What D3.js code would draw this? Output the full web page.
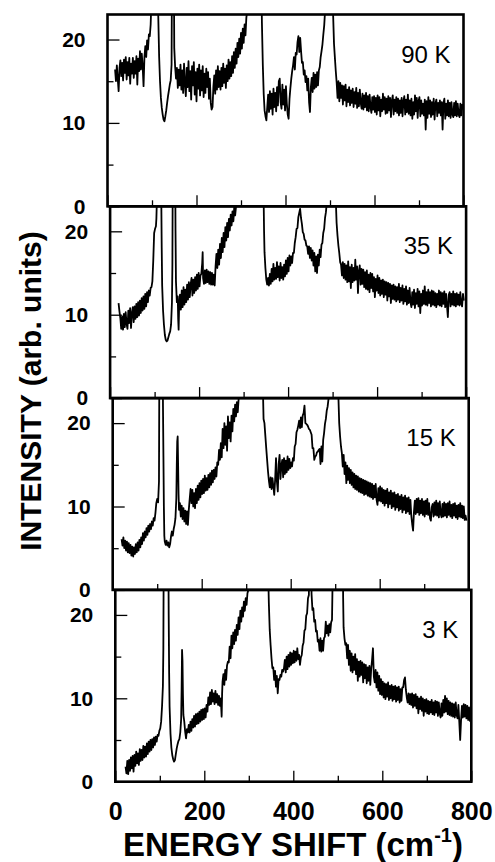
<!DOCTYPE html>
<html>
<head>
<meta charset="utf-8">
<script src="https://cdn.jsdelivr.net/npm/d3@7"></script>
<style>
  body { margin: 0; background: #fff; }
  text { font-family: "Liberation Sans", Arial, Helvetica, sans-serif; fill: #000; }
</style>
</head>
<body>
<div id="svg-container"></div>
<script>
// spectra, [energy shift (cm-1), intensity], 30 = off scale
const spec90 = [[17,16.4],[19,15.0],[21,16.9],[23,15.3],[25,13.8],[27,16.6],[29,17.5],[31,15.6],[33,17.2],[35,15.1],[37,17.6],[39,16.0],[41,17.9],[43,15.2],[45,17.3],[47,15.7],[49,17.8],[51,14.7],[53,17.1],[55,15.9],[57,17.8],[59,15.4],[61,17.4],[63,15.9],[65,18.0],[67,14.6],[69,17.7],[71,16.2],[73,18.6],[75,16.4],[77,18.3],[79,16.8],[81,14.4],[83,17.9],[85,19.2],[87,17.9],[89,19.9],[91,18.8],[93,20.6],[95,20.4],[97,21.8],[98,23.5],[99,30],[112,30],[114,23],[116,18],[118,15],[120,13],[122,11.8],[124,11.0],[126,10.4],[128,10.2],[130,10.8],[132,11.5],[134,12.4],[136,13.2],[138,13.9],[140,14.6],[142,15.1],[144,17],[145,30],[149,30],[150,19],[152,16.7],[154,15.3],
  [156,16.6],[158,14.2],[160,16.4],[162,14.5],[164,17.0],[166,14.0],[168,16.3],[170,13.6],[172,17.1],[174,14.7],[176,13.2],[178,16.6],[180,14.3],[182,17.4],[184,13.8],[186,16.2],[188,12.8],[190,16.8],[192,14.5],[194,17.3],[196,13.4],[198,16.1],[200,12.6],[202,16.5],[204,14.1],[206,17.0],[208,13.3],[210,16.3],[212,13.9],[214,16.8],[216,13.1],[218,15.9],[220,13.6],[222,16.5],[224,14.3],[226,16.1],[228,12.9],[230,15.3],[232,12.4],[234,11.6],[236,11.9],[238,14.4],[240,15.7],[242,13.5],[244,16.3],[246,14.0],[248,16.8],[250,14.3],[252,16.2],[254,14.0],[256,16.6],[258,14.4],[260,17.1],[262,14.8],[264,16.5],[266,14.2],[268,16.9],[270,15.0],[272,17.6],[274,15.3],[276,17.3],[278,15.6],[280,18.0],[282,16.0],[284,18.5],[286,16.6],[288,18.9],[290,17.1],[292,19.6],[294,17.9],[296,20.1],[298,18.3],[300,20.8],[302,18.9],[304,21.3],[306,19.6],[308,21.8],[310,20.5],[312,22.6],[314,23.5],[315,30],
  [345,30],[347,22],[349,17],[351,13.5],[353,11.5],[355,10.8],[357,10.3],[359,11.9],[361,13.4],[363,11.3],[365,13.8],[367,11.7],[369,13.5],[371,11.0],[373,14.1],[375,11.9],[377,13.6],[379,11.4],[381,14.3],[383,12.1],[385,15.0],[387,15.3],[389,12.5],[391,11.7],[393,14.6],[395,12.2],[397,14.0],[399,11.5],[401,14.4],[403,12.3],[405,11.0],[407,10.5],[409,12.9],[411,14.2],[413,15.3],[415,16.2],[417,16.9],[419,17.9],[421,16.4],[423,18.4],[425,18.2],[427,19.7],[429,20.4],[431,18.5],[433,20.2],[435,18.6],[437,17.2],[439,17.3],[441,15.8],[443,16.3],[445,14.9],[447,15.6],[449,13.9],[451,15.3],[453,12.5],[455,11.3],[457,14.3],[459,15.4],[461,13.7],[463,16.0],[465,14.1],[467,15.8],[469,14.3],[471,16.1],[473,14.5],[475,16.3],[477,16.7],[479,17.9],[481,18.6],[483,19.4],[485,20.6],[487,21.7],[489,23.5],[490,30],
  [505,30],[507,23],[509,19.5],[511,17.8],[513,16.2],[515,14.8],[517,13.0],[519,15.0],[521,12.6],[523,14.8],[525,13.0],[527,14.5],[529,12.2],[531,14.4],[533,12.7],[535,14.6],[537,12.0],[539,14.0],[541,12.5],[543,14.3],[545,12.1],[547,13.9],[549,12.4],[551,14.1],[553,11.9],[555,13.7],[557,12.3],[559,14.2],[561,11.8],[563,13.6],[565,12.0],[567,14.0],[569,12.4],[571,11.7],[573,13.5],[575,11.6],[577,13.3],[579,11.9],[581,13.6],[583,11.5],[585,13.2],[587,11.4],[589,13.4],[591,11.9],[593,11.2],[595,13.1],[597,11.6],[599,13.2],[601,11.3],[603,13.0],[605,11.0],[607,13.3],[609,11.5],[611,13.1],[613,10.8],[615,12.8],[617,11.4],[619,13.5],[621,11.6],[623,13.1],[625,11.1],[627,12.9],[629,11.2],[631,13.2],[633,11.5],[635,13.0],[637,10.7],[639,12.7],[641,13.3],[643,11.0],[645,12.8],[647,11.4],[649,13.1],[651,11.2],[653,12.9],[655,10.9],[657,12.7],[659,11.2],[661,13.0],[663,10.8],[665,12.6],[667,13.2],[669,11.0],[671,12.8],[673,11.3],[675,13.4],[677,11.1],[679,12.7],[681,10.9],[683,12.9],[685,10.5],[687,12.5],[689,11.0],[691,13.3],[693,11.4],[695,13.0],[697,10.6],[699,12.6],[701,13.1],[703,10.8],[705,12.7],[707,11.1],[709,12.3],[711,10.9],[713,12.8],[715,9.2],[717,12.6],[719,10.6],[721,13.1],[723,11.1],[725,12.7],[727,10.7],[729,12.5],[731,11.0],[733,12.9],[735,10.4],[737,12.3],[739,12.8],[741,10.8],[743,12.4],[745,11.2],[747,12.7],[749,10.9],[751,12.5],[753,9.2],[755,12.4],[757,12.9],[759,10.5],[761,12.3],[763,10.9],[765,12.7],[767,10.8],[769,12.4],[771,10.6],[773,12.5],[775,11.0],[777,10.7],[779,12.4],[781,10.9],[783,12.6],[785,10.8],[787,12.3],[789,11.0],[791,10.7],[793,12.3],[795,10.9],[797,12.2],[799,11.6]]

const spec35 = [[19,11.4],[21,10.4],[23,9.6],[25,8.3],[27,9.8],[29,8.2],[31,10.1],[33,8.5],[35,10.3],[37,8.9],[39,8.3],[41,10.5],[43,9.0],[45,10.8],[47,8.4],[49,10.2],[51,10.9],[53,9.1],[55,11.0],[57,9.5],[59,11.3],[61,9.7],[63,11.5],[65,9.9],[67,11.7],[69,10.2],[71,12.0],[73,10.5],[75,12.2],[77,10.7],[79,12.5],[81,11.0],[83,12.7],[85,11.5],[87,12.9],[89,12.3],[91,13.2],[93,13.3],[95,14.0],[97,16.5],[99,19.8],[101,20.3],[103,20.6],[104,21.5],[105,23.5],[106,30],[114,30],[115,24],[116,18],[117,13.5],[119,10.5],[121,8.8],[123,7.6],[125,7.0],[127,6.8],[129,6.9],[131,7.3],[133,7.7],[135,8.0],[137,8.8],[139,11.5],[140,16],[141,30],[146,30],[147,20],[148,14],[150,11.5],[152,12.2],[153,9.5],[154,8.2],
  [155,10.8],[157,12.4],[159,10.6],[161,12.9],[163,10.9],[165,13.3],[167,11.2],[169,13.0],[171,11.5],[173,13.6],[175,11.8],[177,13.9],[179,12.1],[181,13.6],[183,14.4],[185,12.3],[187,14.2],[189,12.6],[191,14.5],[193,12.9],[195,14.8],[197,13.1],[199,15.0],[201,13.4],[203,14.7],[205,14.9],[207,16.2],[208,17.5],[209,14.4],[211,13.7],[213,15.3],[215,13.8],[217,15.4],[219,13.9],[221,15.2],[223,13.7],[225,15.1],[227,13.6],[229,15.0],[231,13.6],[233,14.8],[235,13.5],[237,15.8],[239,17.3],[241,15.6],[243,17.8],[245,16.0],[247,18.5],[249,16.8],[251,19.2],[253,17.5],[255,19.8],[257,18.1],[259,20.5],[261,18.9],[263,21.0],[265,19.3],[267,21.5],[269,20.1],[271,22.0],[273,20.7],[275,22.4],[277,21.2],[279,22.9],[281,21.9],[283,23.0],[285,23.5],[286,30],
  [344,30],[345,24],[346,20],[347,17.5],[349,15.6],[351,14.2],[353,13.6],[355,14.4],[357,13.5],[359,14.9],[361,13.7],[363,15.5],[365,14.0],[367,16.1],[369,14.2],[371,15.6],[373,14.3],[375,16.3],[377,14.5],[379,15.8],[381,14.1],[383,16.2],[385,14.4],[387,15.7],[389,14.2],[391,16.0],[393,14.6],[395,16.5],[397,14.9],[399,16.8],[401,15.2],[403,17.1],[405,15.9],[407,17.0],[409,16.2],[411,17.4],[413,17.4],[415,18.6],[417,19.3],[419,20.3],[421,20.4],[423,21.7],[425,22.2],[427,22.7],[429,21.6],[431,20.9],[433,19.9],[435,19.7],[437,19.0],[439,18.9],[441,18.3],[443,18.2],[445,17.3],[447,18.2],[449,16.8],[451,18.0],[453,16.5],[455,17.7],[457,15.9],[459,17.4],[461,15.2],[463,17.0],[465,15.0],[467,17.2],[469,15.9],[471,17.8],[473,16.9],[475,18.4],[477,18.6],[479,19.8],[481,20.3],[483,21.6],[485,22.3],[487,23.5],[488,30],
  [506,30],[507,24],[509,21],[511,19.5],[513,18.3],[515,17.4],[517,16.3],[519,16.0],[521,14.7],[523,16.3],[525,14.4],[527,16.1],[529,14.2],[531,15.9],[533,13.9],[535,16.4],[537,14.0],[539,15.7],[541,13.2],[543,16.0],[545,13.9],[547,15.6],[549,14.1],[551,16.6],[553,14.2],[555,15.8],[557,12.6],[559,15.2],[561,15.9],[563,13.6],[565,15.5],[567,13.7],[569,15.4],[571,13.3],[573,15.1],[575,13.1],[577,15.3],[579,13.0],[581,14.8],[583,12.7],[585,15.0],[587,13.2],[589,14.9],[591,12.8],[593,14.5],[595,12.1],[597,14.3],[599,12.9],[601,14.7],[603,12.6],[605,14.4],[607,12.3],[609,14.1],[611,12.5],[613,14.2],[615,12.1],[617,14.0],[619,12.4],[621,13.9],[623,11.7],[625,13.8],[627,12.2],[629,13.7],[631,11.4],[633,13.5],[635,11.9],[637,13.6],[639,11.8],[641,13.4],[643,11.6],[645,13.3],[647,11.8],[649,13.7],[651,11.5],[653,13.2],[655,11.7],[657,13.5],[659,11.3],[661,13.1],[663,11.6],[665,13.4],[667,11.2],[669,12.9],[671,11.4],[673,13.2],[675,11.5],[677,10.9],[679,12.7],[681,11.2],[683,13.0],[685,10.8],[687,12.6],[689,11.3],[691,13.1],[693,11.0],[695,12.8],[697,10.2],[699,12.5],[701,11.1],[703,12.9],[705,11.3],[707,13.4],[709,11.2],[711,12.7],[713,11.1],[715,13.0],[717,11.4],[719,12.7],[721,11.0],[723,12.9],[725,11.2],[727,12.8],[729,11.1],[731,12.6],[733,10.9],[735,12.5],[737,11.2],[739,12.9],[741,11.1],[743,12.7],[745,11.0],[747,12.6],[749,11.3],[751,12.8],[753,10.9],[755,12.5],[757,11.1],[759,9.7],[761,12.4],[763,12.7],[765,11.0],[767,12.5],[769,11.2],[771,12.8],[773,11.1],[775,12.5],[777,11.0],[779,12.6],[781,11.2],[783,12.4],[785,11.1],[787,12.7],[789,11.3],[791,11.0],[793,12.5],[795,11.7]]

const spec15 = [[20,6.1],[22,5.3],[24,6.3],[26,5.0],[28,5.9],[30,4.7],[32,5.8],[34,4.5],[36,5.6],[38,4.4],[40,5.4],[42,4.1],[44,5.2],[46,4.0],[48,5.1],[50,4.3],[52,5.5],[54,4.5],[56,5.7],[58,4.7],[60,6.0],[62,5.1],[64,6.3],[66,5.5],[68,6.8],[70,5.9],[72,7.0],[74,6.3],[76,7.4],[78,6.6],[80,7.7],[82,7.0],[84,7.9],[86,7.3],[88,8.2],[90,7.7],[92,8.6],[94,8.3],[96,9.2],[98,10.4],[100,10.9],[102,10.5],[104,13],[105,30],[112,30],[113,22],[114,16],[115,10],[116,6.5],[117,5.8],[119,5.4],[121,5.9],[123,5.3],[125,5.7],[127,5.1],[129,5.5],[131,6.4],[133,7.0],[135,6.5],[137,7.3],[139,7.8],[141,8.6],[143,11],[144,15],[145,17.8],[146,18.4],[147,15],[148,11.5],
  [149,9.6],[151,10.4],[153,8.8],[155,10.1],[157,8.5],[159,9.8],[161,8.2],[163,9.5],[165,7.9],[167,9.4],[169,7.8],[171,9.6],[173,10.9],[175,12.1],[177,10.4],[179,12.0],[181,10.0],[183,11.6],[185,9.8],[187,12.1],[189,10.4],[191,12.5],[193,10.8],[195,12.8],[197,11.1],[199,13.1],[201,11.5],[203,13.3],[205,11.6],[207,13.7],[209,11.9],[211,13.4],[213,12.0],[215,13.8],[217,12.3],[219,14.0],[221,12.6],[223,14.3],[225,12.9],[227,14.4],[229,13.3],[231,14.7],[233,13.6],[235,15.3],[237,15.0],[239,16.8],[241,15.6],[243,17.6],[245,15.9],[247,19.3],[249,17.0],[251,20.0],[253,17.4],[255,19.6],[257,16.7],[259,20.8],[261,18.2],[263,20.1],[265,17.8],[267,20.9],[269,19.0],[271,21.7],[273,20.2],[275,22.2],[277,20.8],[279,22.5],[281,21.3],[283,22.9],[285,23.0],[286,30],
  [337,30],[338,23],[339,20.5],[341,20.0],[343,18.5],[345,17.0],[347,15.6],[349,14.2],[351,13.1],[353,12.3],[355,13.5],[357,12.1],[359,13.4],[361,12.4],[363,11.4],[365,13.2],[367,15.8],[369,13.0],[371,11.8],[373,15.1],[375,16.2],[377,13.3],[379,14.9],[381,15.6],[383,13.5],[385,15.8],[387,13.9],[389,15.5],[391,14.1],[393,16.0],[395,14.4],[397,15.7],[399,14.6],[401,15.3],[403,14.8],[405,15.8],[407,15.5],[409,17.2],[411,17.5],[413,18.9],[415,19.2],[417,19.7],[419,20.3],[421,19.4],[423,20.7],[425,19.5],[427,20.9],[429,21.2],[431,22.1],[433,20.0],[435,19.9],[437,19.8],[439,19.6],[441,19.3],[443,19.2],[445,18.9],[447,18.6],[449,17.0],[451,17.0],[453,15.6],[455,16.0],[457,16.1],[459,16.5],[461,16.6],[463,16.8],[465,16.9],[467,15.1],[469,17.2],[471,15.4],[473,18.0],[475,18.8],[477,19.9],[479,20.5],[481,21.5],[483,22.0],[485,22.9],[487,23.5],[488,30],
  [506,30],[507,23.5],[509,20.0],[511,18.4],[513,17.2],[515,16.4],[517,14.8],[519,16.2],[521,13.9],[523,15.3],[525,12.8],[527,14.9],[529,13.2],[531,14.6],[533,12.8],[535,14.4],[537,12.6],[539,14.1],[541,12.3],[543,13.9],[545,12.1],[547,13.7],[549,12.0],[551,13.6],[553,11.8],[555,13.4],[557,11.7],[559,13.3],[561,11.6],[563,13.2],[565,11.4],[567,13.1],[569,11.5],[571,13.0],[573,11.3],[575,12.9],[577,11.2],[579,12.8],[581,11.1],[583,12.7],[585,10.9],[587,12.5],[589,11.1],[591,12.7],[593,10.8],[595,10.2],[597,12.2],[599,10.7],[601,12.4],[603,10.6],[605,12.2],[607,10.4],[609,12.0],[611,10.1],[613,11.9],[615,10.4],[617,12.1],[619,9.9],[621,11.7],[623,10.3],[625,11.9],[627,9.8],[629,11.6],[631,10.0],[633,11.7],[635,9.6],[637,11.4],[639,9.9],[641,11.5],[643,9.5],[645,11.2],[647,9.7],[649,11.4],[651,9.3],[653,11.1],[655,9.6],[657,11.3],[659,9.2],[661,11.0],[663,9.4],[665,11.1],[667,9.1],[669,10.8],[671,8.9],[673,7.9],[675,7.1],[677,9.4],[679,10.7],[681,9.1],[683,10.9],[685,9.3],[687,11.0],[689,9.0],[691,10.7],[693,9.2],[695,10.9],[697,9.0],[699,10.6],[701,8.8],[703,10.7],[705,9.1],[707,10.9],[709,9.0],[711,10.4],[713,8.6],[715,8.3],[717,9.9],[719,10.3],[721,8.8],[723,10.5],[725,9.0],[727,10.7],[729,8.9],[731,10.4],[733,8.7],[735,10.6],[737,9.1],[739,8.7],[741,10.3],[743,8.8],[745,10.5],[747,8.9],[749,10.3],[751,8.7],[753,10.4],[755,9.0],[757,10.6],[759,8.8],[761,10.2],[763,8.6],[765,10.3],[767,8.9],[769,10.4],[771,8.7],[773,10.1],[775,8.5],[777,10.2],[779,8.8],[781,10.4],[783,8.7],[785,10.1],[787,8.6],[789,10.0],[791,8.4],[793,8.9],[795,8.3]]

const spec3 = [[23,1.8],[25,1.0],[27,2.5],[29,0.9],[31,2.6],[33,1.3],[35,2.9],[37,1.6],[39,3.1],[41,1.2],[43,3.2],[45,1.9],[47,3.6],[49,2.2],[51,3.4],[53,2.0],[55,3.9],[57,2.5],[59,3.8],[61,2.6],[63,4.3],[65,2.9],[67,4.2],[69,3.0],[71,4.6],[73,3.3],[75,4.8],[77,3.6],[79,5.0],[81,3.8],[83,5.1],[85,4.1],[87,5.3],[89,4.4],[91,5.4],[93,4.8],[95,5.6],[97,5.5],[99,6.1],[101,6.4],[103,7.2],[105,9.0],[107,11.5],[108,16],[109,30],[119,30],[120,20],[121,13],[122,9],[124,5.8],[126,4.1],[128,3.2],[130,2.7],[132,2.4],[134,2.6],[136,3.3],[138,4.0],[140,4.5],[142,4.9],[144,5.1],[146,5.9],[148,7.5],[149,11],[150,15.8],[151,14.5],[152,10.5],[153,8.0],
  [155,7.2],[157,6.0],[159,5.2],[161,6.3],[163,5.9],[165,6.8],[167,5.9],[169,7.2],[171,6.1],[173,7.5],[175,6.5],[177,7.9],[179,6.6],[181,8.1],[183,6.9],[185,8.2],[187,7.0],[189,8.4],[191,7.2],[193,8.6],[195,7.4],[197,8.7],[199,7.5],[201,8.8],[203,7.7],[205,9.2],[207,8.4],[209,10.1],[211,9.2],[213,10.7],[215,9.3],[217,11.0],[219,9.6],[221,10.6],[223,9.3],[225,10.9],[227,9.5],[229,10.5],[231,9.2],[233,10.3],[235,9.1],[237,10.0],[239,7.8],[240,10.5],[241,12.0],[243,12.9],[245,11.6],[247,13.4],[249,12.2],[251,13.9],[253,14.4],[255,14.3],[257,16.2],[259,14.8],[261,17.5],[263,16.0],[265,17.9],[267,16.5],[269,18.2],[271,16.9],[273,18.8],[275,17.6],[277,19.7],[279,18.3],[281,20.5],[283,19.2],[285,20.9],[287,19.8],[289,21.6],[291,20.5],[293,22.0],[295,21.2],[297,22.6],[299,23.0],[300,30],
  [343,30],[344,24],[345,21.5],[347,18.2],[349,16.4],[351,14.8],[353,13.6],[355,13.7],[357,12.2],[359,13.3],[361,11.4],[363,12.7],[365,10.6],[367,12.3],[369,12.2],[371,12.8],[373,12.6],[375,13.4],[377,13.2],[379,13.6],[381,14.6],[383,13.1],[385,15.0],[387,13.5],[389,15.2],[391,13.8],[393,15.5],[395,14.0],[397,15.4],[399,14.2],[401,15.7],[403,14.3],[405,15.6],[407,14.5],[409,16.0],[411,14.7],[413,15.2],[415,14.0],[417,14.9],[419,15.2],[421,16.3],[423,16.7],[425,18.1],[427,18.3],[429,19.9],[431,20.2],[433,22.0],[435,22.4],[436,30],[440,30],[441,22.5],[443,20.6],[445,20.8],[447,19.2],[449,19.4],[451,18.0],[453,18.1],[455,16.8],[457,17.0],[459,15.7],[461,17.2],[463,15.6],[465,16.9],[467,15.7],[469,17.2],[471,17.4],[473,19.2],[475,17.8],[477,18.7],[479,17.5],[481,18.9],[483,17.9],[485,19.1],[487,19.4],[488,23],[489,30],
  [511,30],[512,22],[513,18.5],[515,17.2],[517,16.4],[519,16.6],[521,14.8],[523,16.4],[525,14.0],[527,15.7],[529,13.3],[531,15.4],[533,13.1],[535,15.0],[537,13.4],[539,15.3],[541,12.9],[543,14.7],[545,12.1],[547,14.4],[549,12.6],[551,14.5],[553,12.8],[555,14.3],[557,11.9],[559,14.1],[561,12.4],[563,14.0],[565,11.8],[567,13.7],[569,12.1],[571,13.9],[573,11.6],[575,13.5],[577,14.6],[579,16.0],[581,12.6],[583,11.9],[585,13.4],[587,11.3],[589,13.1],[591,10.9],[593,12.7],[595,10.5],[597,12.3],[599,10.4],[601,12.0],[603,10.1],[605,11.8],[607,9.9],[609,11.7],[611,10.2],[613,11.9],[615,9.8],[617,11.5],[619,10.0],[621,11.6],[623,9.7],[625,11.4],[627,9.9],[629,11.5],[631,9.6],[633,11.3],[635,9.8],[637,11.4],[639,9.5],[641,11.1],[643,9.7],[645,11.3],[647,11.3],[649,12.2],[651,12.5],[653,11.0],[655,10.1],[657,9.5],[659,10.6],[661,9.3],[663,10.5],[665,9.2],[667,10.6],[669,8.9],[671,10.4],[673,9.1],[675,10.5],[677,8.8],[679,10.2],[681,8.2],[683,10.0],[685,8.7],[687,10.2],[689,8.5],[691,10.0],[693,7.9],[695,9.8],[697,8.4],[699,9.9],[701,8.2],[703,9.7],[705,8.1],[707,9.6],[709,8.3],[711,9.8],[713,8.1],[715,9.5],[717,8.0],[719,9.7],[721,8.3],[723,9.6],[725,7.9],[727,9.5],[729,8.2],[731,7.7],[733,9.4],[735,7.9],[737,9.8],[739,8.3],[741,10.3],[743,8.4],[745,10.0],[747,8.1],[749,9.7],[751,8.0],[753,9.5],[755,7.9],[757,9.4],[759,7.8],[761,9.3],[763,7.7],[765,9.5],[767,8.0],[769,7.6],[771,9.2],[773,7.2],[775,5.0],[777,7.4],[779,9.1],[781,7.7],[783,9.3],[785,7.8],[787,9.2],[789,7.6],[791,9.1],[793,7.4],[795,8.9],[797,7.3],[799,8.1]]

const panelLabels = ['90 K', '35 K', '15 K', '3 K']
const panelData = [spec90, spec35, spec15, spec3]
const xMajor = [0, 200, 400, 600, 800]
const xMinor = [100, 300, 500, 700]
const yMajor = [0, 10, 20]
const yMinor = [5, 15]

const width = 495, height = 862
const svg = d3.select('#svg-container').append('svg')
    .attr('width', width).attr('height', height)

// panels are stacked, each one sits a bit further right (scan skew)
const top0 = 14.5
const panelH = 191.8
const left0 = 107.5
const skew = 2.6
const innerW = 356

const xScale = d3.scaleLinear().domain([0, 800]).range([0, innerW])
const yScale = d3.scaleLinear().domain([0, 23]).range([panelH, 0])

const line = d3.line()
    .x(d => xScale(d[0]))
    .y(d => yScale(d[1]))

panelData.forEach((data, i) => {
    const g = svg.append('g')
        .attr('transform', `translate(${left0 + skew * i}, ${top0 + panelH * i})`)

    g.append('clipPath').attr('id', 'clip' + i)
        .append('rect').attr('width', innerW).attr('height', panelH)

    g.append('path')
        .datum(data)
        .attr('clip-path', `url(#clip${i})`)
        .attr('fill', 'none')
        .attr('stroke', '#000')
        .attr('stroke-width', 1.8)
        .attr('stroke-linejoin', 'round')
        .attr('d', line)

    // x ticks pointing up from the bottom edge
    g.append('g').attr('transform', `translate(0, ${panelH})`)
        .call(d3.axisBottom(xScale).tickValues(xMajor).tickSize(-11).tickFormat(''))
    g.append('g').attr('transform', `translate(0, ${panelH})`)
        .call(d3.axisBottom(xScale).tickValues(xMinor).tickSize(-6).tickFormat(''))

    // y ticks pointing right, labels on the left
    const yMajG = g.append('g')
        .call(d3.axisLeft(yScale).tickValues(yMajor).tickSize(-12).tickPadding(22))
    g.append('g')
        .call(d3.axisLeft(yScale).tickValues(yMinor).tickSize(-6).tickFormat(''))

    g.selectAll('.domain').remove()
    g.selectAll('.tick line').attr('stroke', '#000').attr('stroke-width', 1.3)
    yMajG.selectAll('text')
        .style('font-size', '21px').style('font-weight', 'bold')

    g.append('rect')
        .attr('width', innerW).attr('height', panelH)
        .attr('fill', 'none').attr('stroke', '#000').attr('stroke-width', 2.6)

    g.append('text')
        .attr('x', innerW - 13)
        .attr('y', 48)
        .attr('text-anchor', 'end')
        .style('font-size', '24px')
        .text(panelLabels[i])

    // numbers under the bottom panel only
    if (i === panelData.length - 1) {
        const xLab = g.append('g').attr('transform', `translate(0, ${panelH})`)
            .call(d3.axisBottom(xScale).tickValues(xMajor).tickSize(0).tickPadding(21))
        xLab.select('.domain').remove()
        xLab.selectAll('text').style('font-size', '25px').style('font-weight', 'bold')
    }
})

// axis titles
svg.append('text')
    .attr('transform', 'translate(41, 391) rotate(-90)')
    .attr('text-anchor', 'middle')
    .style('font-size', '30px').style('font-weight', 'bold')
    .text('INTENSITY (arb. units)')

const xTitle = svg.append('text')
    .attr('x', 293).attr('y', 856)
    .attr('text-anchor', 'middle')
    .style('font-size', '33px').style('font-weight', 'bold')
xTitle.append('tspan').text('ENERGY SHIFT (cm')
xTitle.append('tspan').attr('dy', -14).style('font-size', '20px').text('-1')
xTitle.append('tspan').attr('dy', 14).text(')')
</script>
</body>
</html>
